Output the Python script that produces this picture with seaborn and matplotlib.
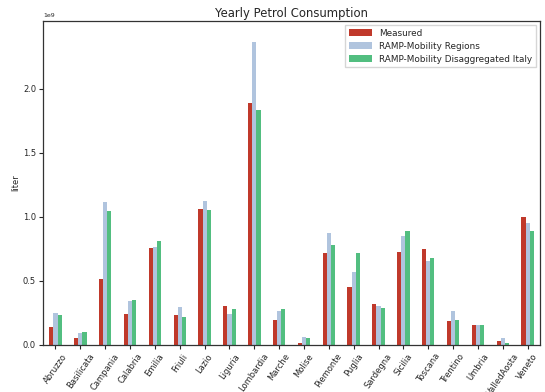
import matplotlib
matplotlib.use("Agg")
import matplotlib.pyplot as plt
import seaborn as sns
import pandas as pd

regions = ["Abruzzo", "Basilicata", "Campania", "Calabria", "Emilia", "Friuli", "Lazio",
           "Liguria", "Lombardia", "Marche", "Molise", "Piemonte", "Puglia", "Sardegna",
           "Sicilia", "Toscana", "Trentino", "Umbria", "ValledAosta", "Veneto"]

measured = [0.14, 0.056, 0.516, 0.24, 0.753, 0.232, 1.06, 0.301, 1.887, 0.194,
            0.015, 0.72, 0.452, 0.322, 0.728, 0.751, 0.184, 0.153, 0.031, 0.996]
ramp_regions = [0.247, 0.094, 1.113, 0.34, 0.761, 0.293, 1.121, 0.24, 2.362, 0.263,
                0.061, 0.874, 0.567, 0.307, 0.85, 0.652, 0.268, 0.153, 0.054, 0.95]
ramp_italy = [0.232, 0.10, 1.044, 0.347, 0.815, 0.217, 1.052, 0.278, 1.834, 0.278,
              0.054, 0.782, 0.72, 0.291, 0.889, 0.675, 0.192, 0.153, 0.015, 0.889]

series_names = ["Measured", "RAMP-Mobility Regions", "RAMP-Mobility Disaggregated Italy"]
colors = ["#c0392b", "#b0c4de", "#52be80"]

rows = []
for name, vals in zip(series_names, [measured, ramp_regions, ramp_italy]):
    for reg, v in zip(regions, vals):
        rows.append({"region": reg, "series": name, "liter": v * 1e9})
df = pd.DataFrame(rows)

sns.set_style("ticks")
plt.rcParams["font.family"] = ["DejaVu Sans"]

fig = plt.figure(figsize=(5.45, 3.92), dpi=100)
ax = fig.add_axes([0.079, 0.12, 0.912, 0.827])

sns.barplot(data=df, x="region", y="liter", hue="series", palette=colors,
            width=0.5, dodge=True, ax=ax, saturation=1, errorbar=None,
            linewidth=0, edgecolor="none")

ax.set_xlim(-0.5, len(regions) - 0.5)
ax.set_ylim(0, 2.53e9)
ax.set_yticks([0, 0.5e9, 1.0e9, 1.5e9, 2.0e9])
ax.ticklabel_format(axis="y", style="sci", scilimits=(0, 0))
ax.yaxis.get_offset_text().set_fontsize(4.5)
ax.set_xlabel("")
ax.set_ylabel("liter", fontsize=6, labelpad=2)
ax.set_title("Yearly Petrol Consumption", fontsize=8.4, pad=3)
ax.tick_params(axis="both", labelsize=6, length=3, width=0.8, direction="out", pad=2)
plt.setp(ax.get_xticklabels(), rotation=55, ha="center")
for s in ax.spines.values():
    s.set_visible(True)
    s.set_linewidth(0.9)
    s.set_color("#333333")

leg = ax.legend(loc="upper right", fontsize=6.4, frameon=True, fancybox=False,
                borderpad=0.4, handlelength=2.6, handleheight=0.9, handletextpad=0.8,
                labelspacing=0.45, borderaxespad=0.5,
                framealpha=0.8, edgecolor="#cccccc")
leg.set_title(None)

fig.savefig("out.png", dpi=100)
